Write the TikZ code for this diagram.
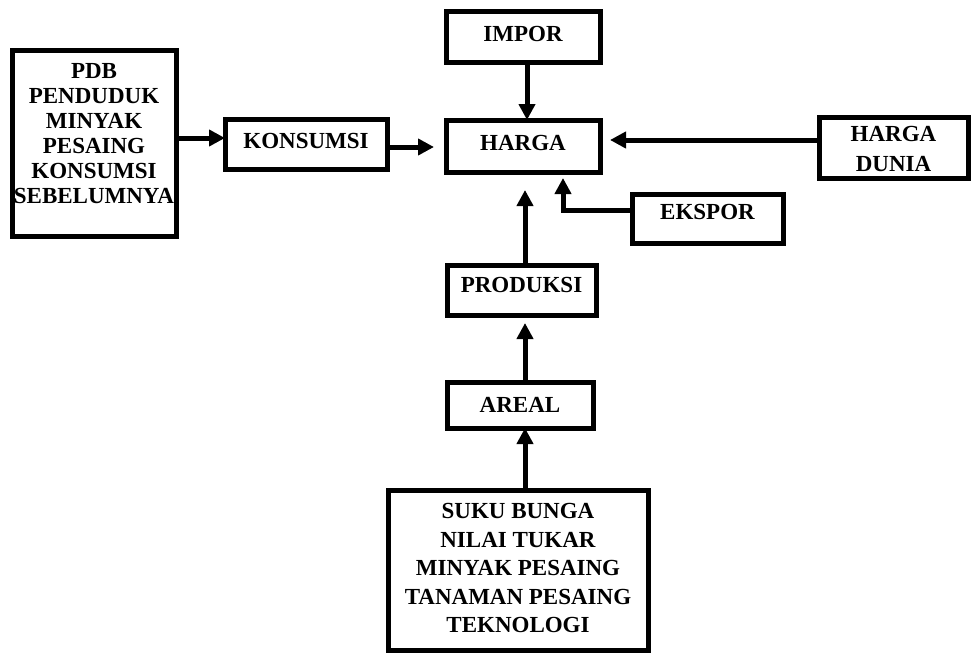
\documentclass[tikz,border=0pt]{standalone}
\usepackage{fontspec}
\setmainfont{Liberation Serif}
\usetikzlibrary{arrows.meta}
\newcommand{\liftup}[2]{\raisebox{#1}[\height][\depth]{#2}}
\newcommand{\stackc}[2]{{\renewcommand{\arraystretch}{#1}\begin{tabular}{@{}c@{}}#2\end{tabular}}}
\begin{document}
\begin{tikzpicture}[x=1pt,y=-1pt,
  box/.style={draw, line width=5pt, outer sep=0pt, inner sep=0pt,
    font=\fontsize{23}{25}\selectfont\bfseries, align=center},
  arr/.style={line width=5pt, -{Triangle[length=16pt,width=16pt]}}]
\useasboundingbox (0,0) rectangle (972,656);

\node[box, minimum width=164pt, minimum height=186pt] (L) at (94,143)
  {\liftup{7pt}{\stackc{1}{PDB\\PENDUDUK\\MINYAK\\PESAING\\KONSUMSI\\SEBELUMNYA}}};
\node[box, minimum width=162pt, minimum height=50pt] (K) at (306,144) {\liftup{3pt}{KONSUMSI}};
\node[box, minimum width=154pt, minimum height=51pt] (I) at (523,36.5) {\liftup{3pt}{IMPOR}};
\node[box, minimum width=154pt, minimum height=52pt] (H) at (523,146) {\liftup{3pt}{HARGA}};
\node[box, minimum width=149pt, minimum height=61pt] (HD) at (893.5,147.5)
  {\liftup{-3pt}{\stackc{1.2}{HARGA\\DUNIA}}};
\node[box, minimum width=151pt, minimum height=49pt] (E) at (707.5,218.5) {\liftup{7pt}{EKSPOR}};
\node[box, minimum width=149pt, minimum height=50pt] (P) at (521.5,290) {\liftup{5pt}{PRODUKSI}};
\node[box, minimum width=146pt, minimum height=46pt] (A) at (520,405) {\liftup{0pt}{AREAL}};
\node[box, minimum width=260pt, minimum height=160pt] (B) at (518,570)
  {\stackc{1.14}{SUKU BUNGA\\NILAI TUKAR\\MINYAK PESAING\\TANAMAN PESAING\\TEKNOLOGI}};

\draw[arr] (L.east |- 0,138) -- (K.west |- 0,138);
\draw[arr, shorten >=12pt] (K.east |- 0,147) -- (H.west |- 0,147);
\draw[arr] (I.south -| 527,0) -- (H.north -| 527,0);
\draw[arr, shorten >=10pt] (HD.west |- 0,140) -- (H.east |- 0,140);
\draw[arr, shorten >=6pt] (E.west |- 0,210) -| ([xshift=40pt]H.south);
\draw[arr, shorten >=18pt] (P.north -| 525,0) -- (H.south -| 525,0);
\draw[arr, shorten >=8pt] (A.north -| 525,0) -- (P.south -| 525,0);
\draw[arr] (B.north -| 525,0) -- (A.south -| 525,0);
\end{tikzpicture}
\end{document}
